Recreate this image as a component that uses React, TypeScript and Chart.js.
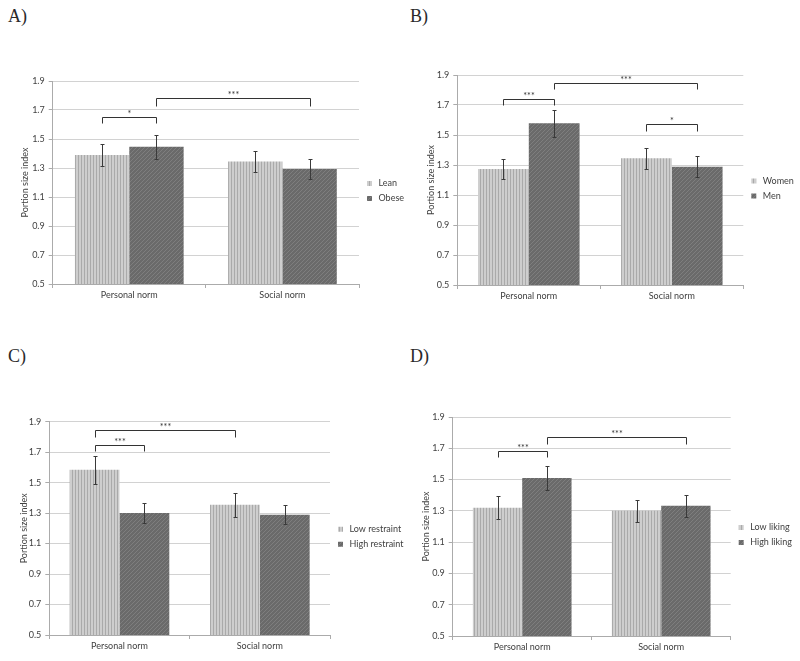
import React, { useEffect, useRef } from "react";
import { Chart, registerables } from "chart.js";

Chart.register(...registerables);

// ---------- shared data ----------
const categories = ["Personal norm", "Social norm"];
const yMin = 0.5;
const yMax = 1.9;
const yStep = 0.2;
const yTitle = "Portion size index";

type Bracket = { from: [number, number]; to: [number, number]; level: number; leg: number; label: string };

// ---------- Panel A ----------
const seriesA = ["Lean", "Obese"];
const leanA = [1.39, 1.345];
const obeseA = [1.447, 1.293];
const leanErrA = [0.073, 0.072];
const obeseErrA = [0.083, 0.071];
const bracketsA: Bracket[] = [
  { from: [0, 0], to: [0, 1], level: 1.655, leg: 1.608, label: "*" },
  { from: [0, 1], to: [1, 1], level: 1.78, leg: 1.728, label: "***" },
];

// ---------- Panel B ----------
const seriesB = ["Women", "Men"];
const womenB = [1.273, 1.345];
const menB = [1.578, 1.289];
const womenErrB = [0.069, 0.07];
const menErrB = [0.088, 0.07];
const bracketsB: Bracket[] = [
  { from: [0, 0], to: [0, 1], level: 1.738, leg: 1.698, label: "***" },
  { from: [0, 1], to: [1, 1], level: 1.849, leg: 1.805, label: "***" },
  { from: [1, 0], to: [1, 1], level: 1.571, leg: 1.529, label: "*" },
];

// ---------- Panel C ----------
const seriesC = ["Low restraint", "High restraint"];
const lowRestraintC = [1.585, 1.355];
const highRestraintC = [1.3, 1.29];
const lowRestraintErrC = [0.092, 0.079];
const highRestraintErrC = [0.066, 0.063];
const bracketsC: Bracket[] = [
  { from: [0, 0], to: [0, 1], level: 1.749, leg: 1.71, label: "***" },
  { from: [0, 0], to: [1, 0], level: 1.845, leg: 1.8, label: "***" },
];

// ---------- Panel D ----------
const seriesD = ["Low liking", "High liking"];
const lowLikingD = [1.32, 1.3];
const highLikingD = [1.51, 1.332];
const lowLikingErrD = [0.073, 0.07];
const highLikingErrD = [0.076, 0.07];
const bracketsD: Bracket[] = [
  { from: [0, 0], to: [0, 1], level: 1.681, leg: 1.642, label: "***" },
  { from: [0, 1], to: [1, 1], level: 1.77, leg: 1.727, label: "***" },
];

// ---------- layout (positions only) ----------
type PanelSpec = {
  letter: string;
  series: string[];
  values: number[][];
  errors: number[][];
  brackets: Bracket[];
  box: { left: number; top: number; width: number; height: number };
  plot: { left: number; top: number; right: number; bottom: number };
  yTitleX: number;
  letterPos: { left: number; top: number };
};

const panels: PanelSpec[] = [
  {
    letter: "A)",
    series: seriesA,
    values: [leanA, obeseA],
    errors: [leanErrA, obeseErrA],
    brackets: bracketsA,
    box: { left: 0, top: 60, width: 450, height: 260 },
    plot: { left: 52.7, top: 81, right: 359, bottom: 284 },
    yTitleX: 25,
    letterPos: { left: 8, top: 7 },
  },
  {
    letter: "B)",
    series: seriesB,
    values: [womenB, menB],
    errors: [womenErrB, menErrB],
    brackets: bracketsB,
    box: { left: 405, top: 50, width: 395, height: 260 },
    plot: { left: 457.3, top: 75, right: 743.3, bottom: 285 },
    yTitleX: 431.5,
    letterPos: { left: 410, top: 7 },
  },
  {
    letter: "C)",
    series: seriesC,
    values: [lowRestraintC, highRestraintC],
    errors: [lowRestraintErrC, highRestraintErrC],
    brackets: bracketsC,
    box: { left: 0, top: 400, width: 420, height: 261 },
    plot: { left: 49.3, top: 421.7, right: 330, bottom: 635 },
    yTitleX: 24,
    letterPos: { left: 8, top: 347 },
  },
  {
    letter: "D)",
    series: seriesD,
    values: [lowLikingD, highLikingD],
    errors: [lowLikingErrD, highLikingErrD],
    brackets: bracketsD,
    box: { left: 405, top: 396, width: 395, height: 265 },
    plot: { left: 452.7, top: 417, right: 730.7, bottom: 636 },
    yTitleX: 426,
    letterPos: { left: 410, top: 347 },
  },
];

const FONT = "Lato";
const FONT_SIZE = 9;
const TEXT = "#404040";
const GRID = "#d2d2d2";
const AXIS = "#ababab";
const X_AXIS_H = 17;
const LEG_PAD = 6;
const LEG_BOX_W = 9;
const Y_TITLE_PAD = 5;

function makeLightPattern(): CanvasPattern | string {
  const c = document.createElement("canvas");
  c.width = 3;
  c.height = 3;
  const g = c.getContext("2d");
  if (!g) return "#c2c2c2";
  g.fillStyle = "#cecece";
  g.fillRect(0, 0, 3, 3);
  g.fillStyle = "#aaaaaa";
  g.fillRect(0, 0, 1, 3);
  return g.createPattern(c, "repeat") || "#c2c2c2";
}

function makeDarkPattern(): CanvasPattern | string {
  const c = document.createElement("canvas");
  c.width = 4;
  c.height = 4;
  const g = c.getContext("2d");
  if (!g) return "#6f6f6f";
  g.fillStyle = "#6a6a6a";
  g.fillRect(0, 0, 4, 4);
  g.fillStyle = "#7e7e7e";
  for (let i = 0; i < 4; i++) g.fillRect(i, 3 - i, 1, 1);
  return g.createPattern(c, "repeat") || "#6f6f6f";
}

function legendWidth(labels: string[]): number {
  const c = document.createElement("canvas");
  const g = c.getContext("2d");
  let maxText = 40;
  if (g) {
    g.font = `${FONT_SIZE}px ${FONT}`;
    maxText = Math.max(...labels.map((l) => g.measureText(l).width));
  }
  return LEG_PAD + LEG_BOX_W + FONT_SIZE / 2 + maxText + 10;
}

const errorBarPlugin = {
  id: "errorBars",
  afterDatasetsDraw(chart: any) {
    const ctx = chart.ctx;
    const y = chart.scales.y;
    ctx.save();
    ctx.strokeStyle = "#3a3a3a";
    ctx.lineWidth = 1;
    chart.data.datasets.forEach((ds: any, i: number) => {
      const meta = chart.getDatasetMeta(i);
      const errs: number[] = ds.errors || [];
      meta.data.forEach((bar: any, j: number) => {
        const v = ds.data[j] as number;
        const e = errs[j] || 0;
        const x = Math.round(bar.x) + 0.5;
        const yt = Math.round(y.getPixelForValue(v + e)) + 0.5;
        const yb = Math.round(y.getPixelForValue(v - e)) + 0.5;
        ctx.beginPath();
        ctx.moveTo(x, yt);
        ctx.lineTo(x, yb);
        ctx.moveTo(x - 2, yt);
        ctx.lineTo(x + 2, yt);
        ctx.moveTo(x - 2, yb);
        ctx.lineTo(x + 2, yb);
        ctx.stroke();
      });
    });
    ctx.restore();
  },
};

function makeBracketPlugin(items: Bracket[]) {
  return {
    id: "sigBrackets",
    afterDatasetsDraw(chart: any) {
      const ctx = chart.ctx;
      const y = chart.scales.y;
      ctx.save();
      ctx.strokeStyle = "#333333";
      ctx.lineWidth = 1;
      ctx.fillStyle = "#333333";
      ctx.font = `${FONT_SIZE}px ${FONT}`;
      ctx.textAlign = "center";
      ctx.textBaseline = "alphabetic";
      items.forEach((b) => {
        const x1 = Math.round(chart.getDatasetMeta(b.from[1]).data[b.from[0]].x) + 0.5;
        const x2 = Math.round(chart.getDatasetMeta(b.to[1]).data[b.to[0]].x) + 0.5;
        const yl = Math.round(y.getPixelForValue(b.level)) + 0.5;
        const yg = Math.round(y.getPixelForValue(b.leg)) + 0.5;
        ctx.beginPath();
        ctx.moveTo(x1, yg);
        ctx.lineTo(x1, yl);
        ctx.lineTo(x2, yl);
        ctx.lineTo(x2, yg);
        ctx.stroke();
        ctx.fillText(b.label, (x1 + x2) / 2, yl - 1);
      });
      ctx.restore();
    },
  };
}

function Panel({ spec }: { spec: PanelSpec }) {
  const ref = useRef<HTMLCanvasElement | null>(null);

  useEffect(() => {
    if (!ref.current) return;
    const fills = [makeLightPattern(), makeDarkPattern()];
    const { box, plot } = spec;
    const lineH = FONT_SIZE * 1.2;
    const padLeft = spec.yTitleX - box.left - Y_TITLE_PAD - lineH / 2;
    const yWidth = plot.left - box.left - padLeft;
    const padTop = plot.top - box.top;
    const padBottom = box.height - X_AXIS_H - (plot.bottom - box.top);
    const padRight = box.width - (plot.right - box.left) - legendWidth(spec.series);

    const chart = new Chart(ref.current, {
      type: "bar",
      data: {
        labels: categories,
        datasets: spec.series.map((name, i) => ({
          label: name,
          data: spec.values[i],
          errors: spec.errors[i],
          backgroundColor: fills[i],
          borderWidth: 0,
          categoryPercentage: 0.71,
          barPercentage: 1.0,
        })) as any,
      },
      options: {
        responsive: false,
        maintainAspectRatio: false,
        animation: false,
        events: [],
        layout: { padding: { left: padLeft, top: padTop, right: padRight, bottom: padBottom } },
        scales: {
          x: {
            grid: {
              display: true,
              drawOnChartArea: false,
              offset: true,
              tickLength: 4,
              color: AXIS,
              tickColor: AXIS,
            },
            border: { display: true, color: AXIS, width: 1 },
            ticks: { color: TEXT, font: { family: FONT, size: FONT_SIZE }, padding: 2 },
            afterFit: (scale: any) => {
              scale.height = X_AXIS_H;
            },
          },
          y: {
            min: yMin,
            max: yMax,
            ticks: {
              stepSize: yStep,
              color: TEXT,
              font: { family: FONT, size: FONT_SIZE },
              padding: 4,
              callback: (v: any) => Number(v).toFixed(1),
            },
            grid: { color: GRID, tickColor: AXIS, tickLength: 4, lineWidth: 1 },
            border: { display: true, color: AXIS, width: 1 },
            title: {
              display: true,
              text: yTitle,
              color: TEXT,
              font: { family: FONT, size: FONT_SIZE },
              padding: { top: Y_TITLE_PAD, bottom: 0 },
            },
            afterFit: (scale: any) => {
              scale.width = yWidth;
            },
          },
        },
        plugins: {
          legend: {
            display: true,
            position: "right",
            align: "center",
            labels: {
              usePointStyle: true,
              pointStyle: "rect",
              boxWidth: LEG_BOX_W,
              boxHeight: 5,
              padding: LEG_PAD,
              color: TEXT,
              font: { family: FONT, size: FONT_SIZE },
            },
          },
          tooltip: { enabled: false },
        },
      } as any,
      plugins: [errorBarPlugin, makeBracketPlugin(spec.brackets)],
    });
    return () => chart.destroy();
  }, [spec]);

  return (
    <>
      <div
        style={{
          position: "absolute",
          left: spec.letterPos.left,
          top: spec.letterPos.top,
          fontFamily: "'Liberation Serif', serif",
          fontSize: 18,
          lineHeight: 1,
          color: "#2a2a2a",
        }}
      >
        {spec.letter}
      </div>
      <canvas
        ref={ref}
        width={spec.box.width}
        height={spec.box.height}
        style={{
          position: "absolute",
          left: spec.box.left,
          top: spec.box.top,
          width: spec.box.width,
          height: spec.box.height,
        }}
      />
    </>
  );
}

export default function App() {
  return (
    <div
      style={{
        position: "absolute",
        left: 0,
        top: 0,
        width: 800,
        height: 661,
        background: "#ffffff",
        overflow: "hidden",
      }}
    >
      {panels.map((p) => (
        <Panel key={p.letter} spec={p} />
      ))}
    </div>
  );
}
